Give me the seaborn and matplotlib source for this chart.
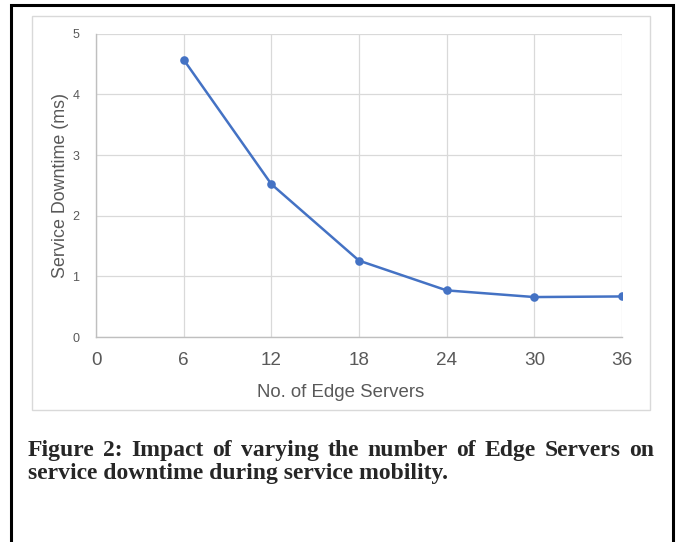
import seaborn as sns
import matplotlib.pyplot as plt
import pandas as pd
from matplotlib.patches import Rectangle

# data
edge_servers = [6, 12, 18, 24, 30, 36]
downtime_ms = [4.57, 2.52, 1.26, 0.77, 0.66, 0.67]
x_ticks = [0, 6, 12, 18, 24, 30, 36]
y_ticks = [0, 1, 2, 3, 4, 5]

caption_1 = 'Figure 2: Impact of varying the number of Edge Servers on'
caption_2 = 'service downtime during service mobility.'

df = pd.DataFrame({'servers': edge_servers, 'downtime': downtime_ms})

sns.set_style('white')
plt.rcParams['font.family'] = ['Liberation Sans', 'DejaVu Sans']

W, H = 682, 542
fig = plt.figure(figsize=(6.82, 5.42), dpi=100)

# outer page border (open at bottom)
fig.patches.append(Rectangle((0.0155, -0.1), 0.972, 1.09, transform=fig.transFigure,
                             fill=False, edgecolor='black', linewidth=2.2))
# light chart frame
fig.patches.append(Rectangle((0.047, 0.2435), 0.906, 0.7265, transform=fig.transFigure,
                             fill=False, edgecolor='#d9d9d9', linewidth=1.0))

ax = fig.add_axes([0.1408, 0.378, 0.7712, 0.56])
sns.lineplot(x='servers', y='downtime', data=df, ax=ax, color='#4472C4',
             linewidth=1.8, marker='o', markersize=6.2, markeredgewidth=0)

ax.set_xlim(0, 36)
ax.set_ylim(0, 5)
ax.set_xticks(x_ticks)
ax.set_yticks(y_ticks)
ax.grid(True, color='#d9d9d9', linewidth=0.9)
ax.set_axisbelow(True)
for s in ['top', 'right']:
    ax.spines[s].set_visible(False)
for s in ['left', 'bottom']:
    ax.spines[s].set_color('#bfbfbf')
    ax.spines[s].set_linewidth(1.0)
ax.tick_params(axis='both', length=0, colors='#595959')
ax.tick_params(axis='x', labelsize=13.6, pad=11)
ax.tick_params(axis='y', labelsize=9, pad=12)

ax.set_xlabel('No. of Edge Servers', fontsize=13.4, color='#595959')
ax.xaxis.set_label_coords(0.466, -0.182)
ax.xaxis.label.set_va('center')
ax.set_ylabel('Service Downtime (ms)', fontsize=12.9, color='#595959')
ax.yaxis.set_label_coords(-0.067, 0.5)
ax.yaxis.label.set_va('center')

# caption: first line justified, second left aligned
cap_kw = dict(family='Liberation Serif', fontweight='bold', fontsize=17, va='baseline')
left, right = 28 / W, 654 / W
y1, y2 = 1 - 456 / H, 1 - 479 / H
words = [fig.text(0, y1, w, **cap_kw) for w in caption_1.split()]
fig.canvas.draw()
r = fig.canvas.get_renderer()
widths = [t.get_window_extent(r).width / W for t in words]
gap = (right - left - sum(widths)) / (len(words) - 1)
x = left
for t, w in zip(words, widths):
    t.set_x(x)
    x += w + gap
fig.text(left, y2, caption_2, **cap_kw)

plt.savefig('out.png', dpi=100)
